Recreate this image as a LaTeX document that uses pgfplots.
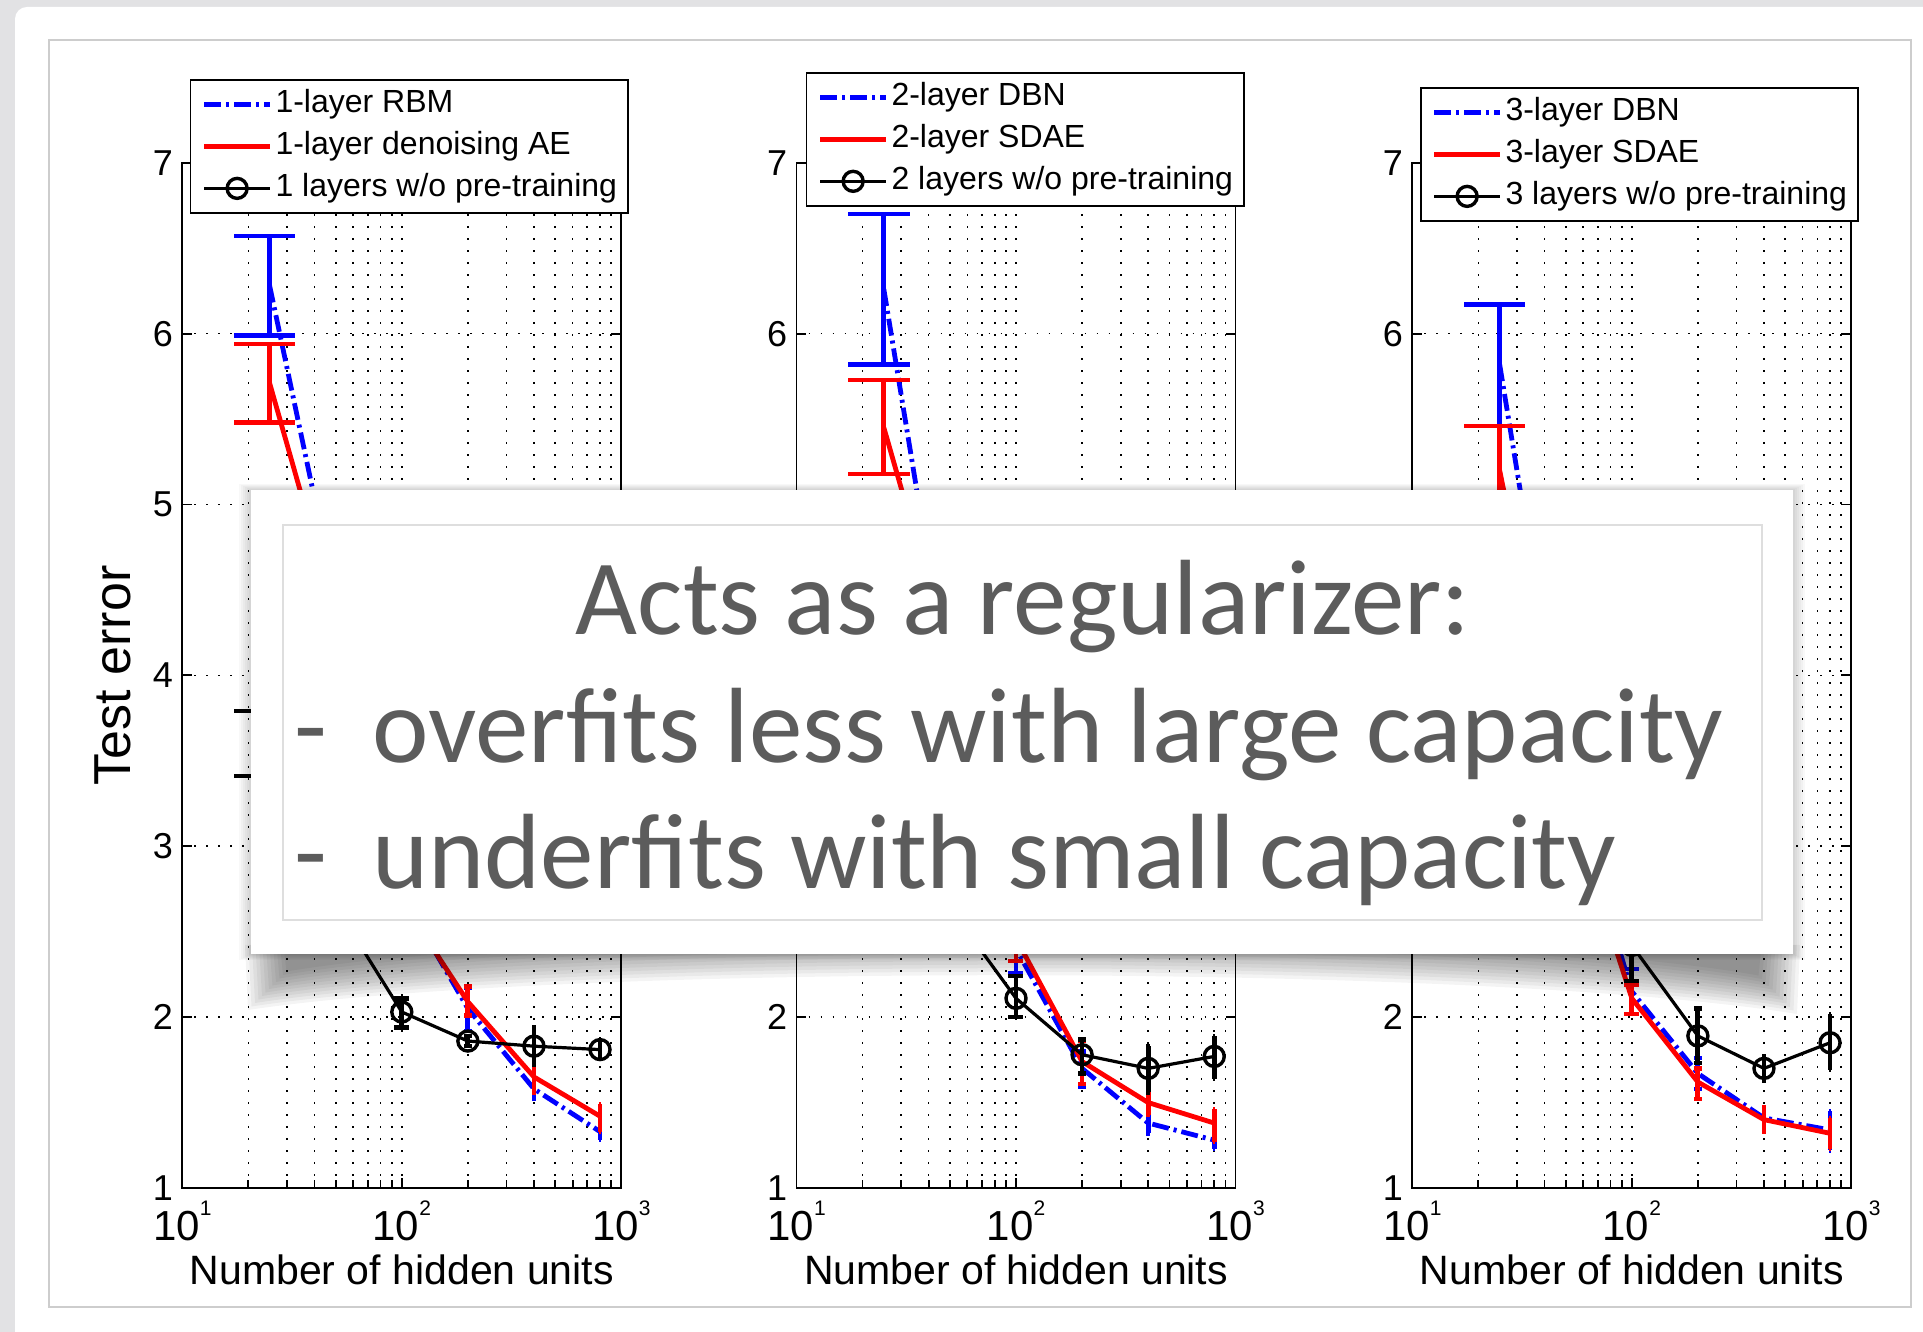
\documentclass[border=0pt]{standalone}
\usepackage{pgfplots}
\usepackage{pgfplotstable}
\pgfplotsset{compat=1.18}
\usepackage{fontspec}
\setmainfont{Liberation Sans}
\newfontfamily\slidefont{Carlito}

\definecolor{mblue}{RGB}{0,0,255}
\definecolor{mred}{RGB}{255,0,0}
\definecolor{slidegray}{RGB}{92,92,92}
\definecolor{pagebg}{RGB}{226,226,228}
\definecolor{framegray}{RGB}{205,205,205}
\definecolor{innergray}{RGB}{222,222,222}

% ---------- data: x, mean, lower, upper ----------
\pgfplotstableread{
x y lo hi
25 6.28 5.99 6.57
50 4.45 4.25 4.65
100 2.72 2.60 2.84
200 2.05 1.92 2.17
400 1.58 1.52 1.65
800 1.33 1.28 1.39
}\pAb
\pgfplotstableread{
x y lo hi
25 5.71 5.48 5.94
50 4.35 4.15 4.55
100 2.68 2.56 2.80
200 2.09 2.01 2.18
400 1.65 1.56 1.76
800 1.42 1.33 1.49
}\pAr
\pgfplotstableread{
x y lo hi
25 3.60 3.41 3.79
50 2.65 2.52 2.78
100 2.03 1.94 2.11
200 1.86 1.83 1.89
400 1.83 1.72 1.94
800 1.81 1.76 1.87
}\pAk
\pgfplotstableread{
x y lo hi
25 6.26 5.82 6.70
50 3.90 3.70 4.10
100 2.40 2.26 2.54
200 1.70 1.59 1.80
400 1.38 1.32 1.43
800 1.28 1.23 1.33
}\pBb
\pgfplotstableread{
x y lo hi
25 5.45 5.18 5.73
50 4.10 3.90 4.30
100 2.46 2.33 2.59
200 1.74 1.61 1.86
400 1.50 1.43 1.57
800 1.38 1.27 1.46
}\pBr
\pgfplotstableread{
x y lo hi
25 3.50 3.30 3.70
50 2.64 2.50 2.78
100 2.11 2.00 2.24
200 1.78 1.67 1.87
400 1.70 1.56 1.83
800 1.77 1.64 1.89
}\pBk
\pgfplotstableread{
x y lo hi
25 5.82 5.46 6.17
50 3.45 3.25 3.65
100 2.15 2.02 2.28
200 1.67 1.58 1.76
400 1.41 1.36 1.47
800 1.34 1.22 1.45
}\pCb
\pgfplotstableread{
x y lo hi
25 5.20 4.94 5.46
50 3.30 3.10 3.50
100 2.11 2.02 2.19
200 1.62 1.52 1.70
400 1.40 1.33 1.47
800 1.32 1.23 1.41
}\pCr
\pgfplotstableread{
x y lo hi
25 3.90 3.70 4.10
50 2.95 2.80 3.10
100 2.42 2.21 2.63
200 1.89 1.73 2.05
400 1.70 1.63 1.77
800 1.85 1.69 2.02
}\pCk

\pgfplotsset{
  scale only axis, width=219.5pt, height=512.6pt,
  xmin=10, xmax=1000, ymin=1, ymax=7,
  xtick={10,100,1000},
  xticklabels={10\raisebox{12.5pt}{\fontsize{10.5}{12}\selectfont 1},
               10\raisebox{12.5pt}{\fontsize{10.5}{12}\selectfont 2},
               10\raisebox{12.5pt}{\fontsize{10.5}{12}\selectfont 3}},
  minor xtick={20,30,40,50,60,70,80,90,200,300,400,500,600,700,800,900},
  ytick={1,2,3,4,5,6,7}, yticklabels={1,2,3,4,5,6,7},
  xmajorgrids=true, xminorgrids=true, ymajorgrids=true,
  major grid style={black, line width=0.8pt, dash pattern=on 0.8pt off 5.2pt},
  minor grid style={black, line width=0.8pt, dash pattern=on 0.8pt off 5.2pt},
  axis line style={line width=0.9pt},
  every tick/.style={black, line width=0.9pt},
  major tick length=5pt, minor tick length=4pt,
  tick align=inside,
  xticklabel style={font=\fontsize{21}{25}\selectfont, anchor=base, yshift=-26.5pt, inner sep=0pt},
  yticklabel style={font=\fontsize{18}{21}\selectfont, anchor=east, inner sep=0pt, xshift=-4.5pt},
  xlabel style={font=\fontsize{20.5}{24}\selectfont, at={(axis description cs:0.5,0)}, anchor=base, yshift=-48.5pt, inner sep=0pt},
  legend style={anchor=north west, draw=black, line width=0.75pt, fill=white,
    font=\fontsize{16}{19}\selectfont,
    inner xsep=5.5pt, inner ysep=4.75pt, row sep=6pt, column sep=1.5pt,
    nodes={inner sep=0pt, text height=11.5pt, text depth=3.5pt}},
  legend cell align=left,
  legend image code/.code={\draw[mark repeat=2,mark phase=2,#1] plot coordinates {(0pt,0pt) (16.5pt,0pt) (33pt,0pt)};},
  sblue/.style={mblue, line width=2.4pt, dash pattern=on 8.5pt off 2.5pt on 1.5pt off 2.5pt},
  sred/.style={mred, line width=2.4pt, solid},
  sblack/.style={black, line width=1.6pt, solid, mark=o, mark size=5pt, mark options={solid, line width=1.7pt}},
}

\newcommand{\errbars}[2]{%
  \addplot[forget plot, draw=none, error bars/.cd, y dir=both, y explicit, error mark=none,
    error bar style={draw=#2, solid, line width=2.4pt}]
    table[x=x, y=y, y error plus expr=\thisrow{hi}-\thisrow{y}, y error minus expr=\thisrow{y}-\thisrow{lo}] {#1};
  \addplot[forget plot, draw=none, error bars/.cd, x dir=both, x fixed=7.75, error mark=none,
    error bar style={draw=#2, solid, line width=2.2pt}]
    table[x=x, y=hi] {#1};
  \addplot[forget plot, draw=none, error bars/.cd, x dir=both, x fixed=7.75, error mark=none,
    error bar style={draw=#2, solid, line width=2.2pt}]
    table[x=x, y=lo] {#1};
}

\begin{document}
\begin{tikzpicture}
\fill[pagebg] (0,0) rectangle (961.5pt,666pt);
\begin{scope}[x=0.5pt,y=-0.5pt,yshift=666pt]
  \fill[white, rounded corners=6pt] (15,7) rectangle (1960,1370);
  \draw[framegray, line width=0.75pt] (49,40) rectangle (1911,1307);
\end{scope}

% ---------- panel 1 ----------
\begin{semilogxaxis}[at={(91.15pt,72pt)},
  xlabel={Number of hidden units},
  ylabel={Test error},
  ylabel style={font=\fontsize{26}{30}\selectfont, at={(axis description cs:-0.1191,0.5)}, anchor=base, inner sep=0pt},
  legend style={at={(axis description cs:0.0175,1.0816)}},
  legend entries={1-layer RBM, 1-layer denoising AE, 1 layers w/o pre-training}]
  \addplot[sblue] table[x=x,y=y] {\pAb};
  \errbars{\pAb}{mblue}
  \addplot[sred] table[x=x,y=y] {\pAr};
  \errbars{\pAr}{mred}
  \addplot[sblack] table[x=x,y=y] {\pAk};
  \errbars{\pAk}{black}
\end{semilogxaxis}

% ---------- panel 2 ----------
\begin{semilogxaxis}[at={(398.25pt,72pt)},
  xlabel={Number of hidden units},
  legend style={at={(axis description cs:0.0216,1.0885)}},
  legend entries={2-layer DBN, 2-layer SDAE, 2 layers w/o pre-training}]
  \addplot[sblue] table[x=x,y=y] {\pBb};
  \errbars{\pBb}{mblue}
  \addplot[sred] table[x=x,y=y] {\pBr};
  \errbars{\pBr}{mred}
  \addplot[sblack] table[x=x,y=y] {\pBk};
  \errbars{\pBk}{black}
\end{semilogxaxis}

% ---------- panel 3 ----------
\begin{semilogxaxis}[at={(706.15pt,72pt)},
  xlabel={Number of hidden units},
  legend style={at={(axis description cs:0.0175,1.0738)}},
  legend entries={3-layer DBN, 3-layer SDAE, 3 layers w/o pre-training}]
  \addplot[sblue] table[x=x,y=y] {\pCb};
  \errbars{\pCb}{mblue}
  \addplot[sred] table[x=x,y=y] {\pCr};
  \errbars{\pCr}{mred}
  \addplot[sblack] table[x=x,y=y] {\pCk};
  \errbars{\pCk}{black}
\end{semilogxaxis}

% ---------- overlay text box ----------
\begin{scope}[x=0.5pt,y=-0.5pt,yshift=666pt]
  \foreach \k in {1,...,6} {
    \fill[black, opacity=0.028] (251-2*\k,490-\k) rectangle (1793+2*\k,954+\k);
  }
  \foreach \k in {0,...,11} {
    \fill[black, opacity=0.045] (245+3.5*\k,945) -- (248+3.5*\k,1010-3.5*\k)
      .. controls (560,963-3.5*\k) and (1480,963-3.5*\k) .. (1797-3.5*\k,1014-3.5*\k)
      -- (1800-3.5*\k,945) -- cycle;
  }
  \fill[white] (251,490) rectangle (1793,954);
  \draw[innergray, line width=0.75pt] (283,525) rectangle (1762,920);
  \node[anchor=base, inner sep=0pt, text=slidegray, font=\slidefont\fontsize{53.5}{60}\selectfont] at (1023,635) {Acts as a regularizer:};
  \node[anchor=base west, inner sep=0pt, text=slidegray, font=\slidefont\fontsize{53.5}{60}\selectfont] at (294,763) {-};
  \node[anchor=base west, inner sep=0pt, text=slidegray, font=\slidefont\fontsize{53.5}{60}\selectfont] at (372,763) {overfits less with large capacity};
  \node[anchor=base west, inner sep=0pt, text=slidegray, font=\slidefont\fontsize{53.5}{60}\selectfont] at (294,889) {-};
  \node[anchor=base west, inner sep=0pt, text=slidegray, font=\slidefont\fontsize{53.5}{60}\selectfont] at (372,889) {underfits with small capacity};
\end{scope}
\pgfresetboundingbox
\path[use as bounding box] (0,0) rectangle (961.5pt,666pt);
\end{tikzpicture}
\end{document}
